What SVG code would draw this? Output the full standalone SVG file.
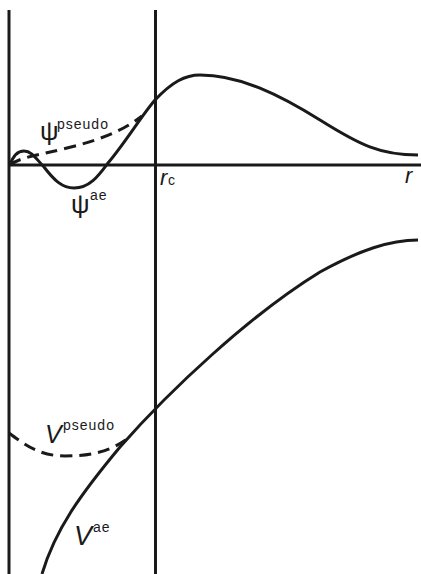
<svg xmlns="http://www.w3.org/2000/svg" width="421" height="574" viewBox="0 0 421 574">
<style>
.ax{stroke:#1a1a1a;stroke-width:3;fill:none}
.cv{stroke:#1a1a1a;stroke-width:3;fill:none;stroke-linecap:butt}
.ds{stroke-dasharray:12 7}
text{font-family:"Liberation Sans",Arial,sans-serif;fill:#1a1a1a}
.big{font-size:22px}
.psi{font-size:26px}
.it{font-style:italic}
.sup{font-size:14px;letter-spacing:1px}
</style>
<rect width="421" height="574" fill="#fff"/>
<g id="axes">
<line class="ax" x1="9" y1="10" x2="9" y2="574"/>
<line class="ax" x1="155.5" y1="10" x2="155.5" y2="574"/>
<line class="ax" x1="9" y1="165" x2="421" y2="165"/>
</g>
<g id="connectors">
<path id="psi-ae" class="cv" d="M10,165 C13,156 17,151 24,151 C32,151 37,160 44,167 C54,180 62,188 74,188 C90,188 99,175 108,163 C125,143 142,115 155,100 C172,82 185,75 200,75 C240,75 280,95 320,120 C360,145 380,155 418,155"/>
<path id="psi-pseudo" class="cv ds" d="M10,165 C20,157 40,155 67,148 C95,141 120,133 142,116"/>
<path id="v-ae" class="cv" d="M42,574 C55,530 80,495 120,447 C170,390 250,315 320,272 C360,250 390,240 418,240"/>
<path id="v-pseudo" class="cv ds" d="M9,433 C25,445 40,456 65,456 C90,456 110,452 130,437"/>
</g>
<g id="labels">
<text x="40" y="140" class="psi">ψ</text>
<text x="57" y="129" class="sup">pseudo</text>
<text x="71" y="213" class="psi">ψ</text>
<text x="90" y="200" class="sup">ae</text>
<text x="160" y="185" class="big it">r</text>
<text x="168" y="185" class="sup">c</text>
<text x="405" y="183" class="big it">r</text>
<text x="45" y="443" class="it" font-size="25">V</text>
<text x="63" y="430" class="sup">pseudo</text>
<text x="74" y="545" class="it" font-size="27">V</text>
<text x="93" y="532" class="sup">ae</text>
</g>
</svg>
